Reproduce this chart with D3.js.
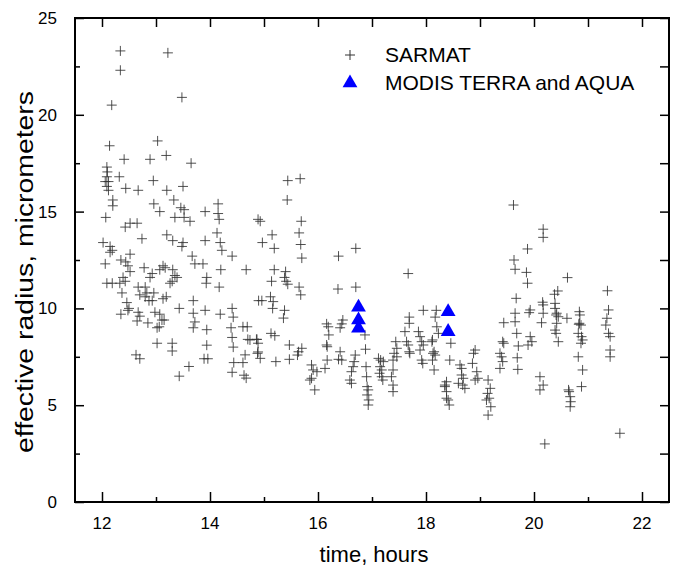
<!DOCTYPE html>
<html>
<head>
<meta charset="utf-8">
<script src="https://cdn.jsdelivr.net/npm/d3@7"></script>
<style>
  body { margin: 0; background: #fff; }
  text { font-family: "Liberation Sans", Arial, sans-serif; fill: #000; }
</style>
</head>
<body>
<svg id="chart" width="676" height="572"></svg>
<script>
// SARMAT retrievals: time (hours) and effective radius (micrometers)
const sarmatTime = [
    12.34, 12.34, 13.22, 12.18, 13.48, 12.14, 13.03, 13.19, 12.41, 12.89, 13.65,
    12.09, 12.1, 12.09, 12.06, 12.12, 12.09, 12.12, 12.32, 12.95, 12.44, 12.67, 13.2, 13.5,
    12.2, 12.2, 12.96, 13.07, 13.33, 13.46, 13.52, 13.91, 14.15, 14.15, 14.17,
    13.35, 13.52, 13.63, 12.07, 12.43, 12.52, 12.65, 12.74, 12.02, 12.15, 12.19,
    13.2, 13.31, 13.5, 13.48, 13.91, 14.13, 14.19, 14.22, 14.41, 13.67, 14.89,
    12.15, 12.06, 12.35, 12.44, 12.52, 12.48, 12.52, 12.78, 12.93, 12.89, 13.07, 13.13,
    13.17, 13.31, 13.35, 13.39, 13.3, 13.26, 13.72, 13.87, 14.2, 14.67, 13.94, 13.93, 14.17,
    12.09, 12.19, 12.33, 12.39, 12.43, 12.37, 12.46, 12.5, 12.67, 12.7, 12.8, 12.8,
    12.83, 12.87, 12.96, 12.93, 13.13, 13.19, 12.35, 12.48, 12.67, 12.7, 12.65, 12.85,
    12.98, 13.07, 13.02, 13.11, 13.15, 13.06, 13.02, 13.3, 13.3, 12.63, 12.7,
    13.43, 13.69, 13.69, 13.72, 13.69, 13.91, 13.94, 14.19, 13.94, 13.89, 13.96, 13.61, 13.43,
    14.41, 14.43, 14.39, 14.41, 14.43, 14.44, 14.41, 14.61, 14.69, 14.7, 14.65, 14.61,
    14.63, 14.67, 14.87, 14.89, 14.9,
    15.44, 15.67, 15.43, 14.93, 15.15, 14.97, 15.19, 15.69, 15.65, 15.68, 15.7,
    15.19, 15.4, 15.38, 15.41, 15.44, 15.14, 15.65, 15.68, 14.96, 15.12, 15.17, 15.16,
    15.38, 15.36, 16.38, 16.7, 16.37, 16.7, 17.67, 17.95, 18.19, 18.17, 17.69,
    16.16, 16.19, 16.46, 16.44, 16.41,
    14.74, 14.86, 14.89, 14.88, 14.93, 15.2, 15.13, 15.22, 15.47, 15.47, 15.64, 15.7, 15.62,
    15.88, 15.91, 15.98, 15.88, 15.85, 15.94, 16.13, 16.17, 16.2, 16.17, 16.16,
    16.87, 16.88, 16.41, 16.44, 16.38, 16.69, 16.67, 16.65, 16.62, 16.59, 16.62,
    16.89, 16.9, 16.91, 16.93, 16.91, 16.94, 16.93,
    17.12, 17.16, 17.21, 17.15, 17.18, 17.18, 17.2, 17.14, 17.39, 17.36, 17.39, 17.39,
    17.44, 17.46, 17.41, 17.46, 17.39, 17.61, 17.64, 17.67, 17.69, 17.7,
    17.86, 17.89, 17.92, 17.95, 17.89, 18.11, 18.15, 18.17, 17.92, 17.94, 18.12, 18.15,
    17.69, 18.38, 18.35, 18.38, 18.41,
    19.62, 20.17, 20.17, 19.88, 19.63, 19.65, 19.86, 19.88, 20.62, 19.67, 20.38, 20.44,
    21.36, 20.16, 20.17, 20.39, 20.39, 19.93, 19.91, 20.42, 20.45, 20.61, 20.84, 20.85,
    20.83, 21.38, 21.35, 21.33, 19.44, 19.65, 20.14,
    18.2, 18.23, 18.12, 18.13, 18.46, 18.44, 18.35, 18.38, 18.43,
    18.63, 18.66, 18.66, 18.69, 18.68, 18.72, 18.6, 18.91, 18.88, 18.86, 18.94, 18.96, 18.91,
    19.15, 19.19, 19.14, 19.17, 19.2, 19.15, 19.12, 19.37, 19.4, 19.42, 19.37, 19.44, 19.42,
    19.65, 19.68, 19.71, 19.69, 19.7, 19.93, 19.96, 19.89, 20.17, 20.11, 20.17, 20.11, 20.2,
    20.41, 20.42, 20.39, 20.41, 20.45, 20.64, 20.67, 20.68, 20.67, 20.65,
    20.84, 20.87, 20.82, 20.88, 20.9, 20.87, 20.82, 20.9, 20.88,
    21.38, 21.41, 21.41, 21.41, 21.59
];
const sarmatRadius = [
    23.3, 22.3, 23.2, 20.5, 20.9, 18.4, 18.65, 17.9, 17.7, 17.7, 17.5,
    17.3, 17.05, 16.8, 16.55, 16.55, 16.3, 16.1, 16.8, 16.6, 16.2, 16.1, 16.1, 16.3,
    15.6, 15.3, 15.4, 15.0, 15.6, 15.2, 15.1, 15.0, 15.4, 14.9, 14.6,
    14.7, 14.7, 14.5, 14.7, 14.2, 14.4, 14.4, 13.6, 13.4, 13.2, 13.0,
    13.8, 13.5, 13.4, 13.2, 13.5, 13.9, 13.4, 13.0, 12.7, 12.7, 14.6,
    12.9, 12.3, 12.5, 12.4, 12.8, 12.2, 11.9, 12.1, 11.8, 11.6, 12.0, 12.2,
    12.1, 12.0, 11.7, 11.6, 11.4, 11.3, 12.3, 12.3, 12.0, 12.0, 11.6, 11.3, 11.1,
    11.3, 11.3, 11.3, 11.6, 11.4, 10.8, 10.3, 10.0, 11.1, 10.7, 11.1, 10.6,
    10.8, 10.4, 10.8, 10.4, 10.5, 10.6, 9.7, 9.9, 9.8, 9.6, 9.35, 9.25,
    9.8, 9.7, 9.0, 9.4, 9.4, 9.05, 8.2, 8.2, 7.8, 7.6, 7.4,
    10.0, 10.4, 9.75, 9.3, 9.0, 9.9, 8.9, 9.7, 8.1, 7.4, 7.4, 7.0, 6.5,
    10.0, 9.55, 9.0, 8.5, 8.0, 7.2, 6.7, 9.05, 9.05, 8.4, 7.6, 7.2,
    6.55, 6.4, 8.4, 7.75, 10.4,
    16.6, 16.7, 15.6, 14.5, 13.8, 13.4, 13.1, 14.5, 13.9, 13.3, 12.6,
    12.0, 11.9, 11.6, 11.4, 11.25, 11.4, 11.1, 10.7, 10.4, 10.6, 10.35, 10.0,
    9.9, 9.5, 12.7, 13.1, 11.0, 11.1, 11.8, 9.9, 9.9, 9.55, 9.55,
    9.2, 9.05, 9.4, 9.2, 9.0,
    8.37, 8.4, 8.2, 7.68, 7.42, 8.59, 8.71, 7.25, 8.11, 7.37, 7.76, 7.94, 7.59,
    7.08, 6.82, 6.73, 6.39, 6.3, 5.79, 6.9, 7.33, 8.63, 8.02, 8.11,
    8.63, 7.89, 7.76, 7.33, 7.37, 7.59, 7.25, 6.99, 6.73, 6.3, 6.13,
    6.99, 6.47, 5.96, 5.79, 5.53, 5.27, 5.01,
    7.42, 7.33, 7.25, 6.99, 6.82, 6.47, 6.3, 6.65, 6.82, 6.47, 6.04, 5.7,
    8.28, 7.94, 7.68, 7.5, 7.33, 8.8, 8.28, 8.11, 7.76, 7.68,
    8.8, 8.54, 8.28, 8.11, 7.85, 8.28, 7.76, 7.59, 7.33, 7.16, 7.33, 6.82,
    9.23, 6.21, 6.04, 5.7, 5.27,
    15.34, 14.09, 13.67, 13.07, 12.5, 12.02, 11.86, 11.3, 11.59, 10.52, 10.73, 10.9,
    10.91, 10.32, 10.18, 10.26, 10.0, 9.92, 9.78, 9.75, 9.57, 9.49, 9.83, 9.66,
    9.18, 9.92, 9.49, 9.14, 9.26, 9.31, 9.26,
    9.05, 8.71, 8.37, 7.68, 8.2, 7.33, 5.96, 5.36, 5.01,
    7.08, 6.9, 6.56, 6.39, 6.04, 5.87, 6.13, 7.85, 7.68, 7.16, 6.73, 6.39, 6.3,
    6.3, 5.87, 5.61, 5.36, 4.92, 4.49, 5.27, 7.68, 7.5, 7.25, 6.9, 8.2, 8.28,
    9.75, 8.71, 8.06, 7.45, 6.85, 8.54, 8.28, 8.11, 9.75, 6.47, 6.04, 5.79, 3.0,
    9.66, 9.23, 8.88, 8.71, 8.28, 5.79, 5.44, 5.18, 4.92, 5.7,
    9.23, 9.14, 8.71, 8.54, 8.37, 8.2, 7.5, 6.82, 5.96,
    8.71, 8.54, 7.85, 7.5, 3.55
];

// MODIS TERRA and AQUA
const modisTime = [16.75, 16.75, 16.75, 18.41, 18.41];
const modisRadius = [10.06, 9.4, 8.97, 9.83, 8.8];

const xTicks = [12, 14, 16, 18, 20, 22];
const yTicks = [0, 5, 10, 15, 20, 25];
const legendLabels = ["SARMAT", "MODIS TERRA and AQUA"];

const svg = d3.select("#chart");
const plotLeft = 75, plotRight = 669, plotTop = 18, plotBottom = 502;

const x = d3.scaleLinear().domain([11.5, 22.5]).range([plotLeft, plotRight]);
const y = d3.scaleLinear().domain([0, 25]).range([plotBottom, plotTop]);

// ticks pointing inward on all four sides
svg.append("g")
    .attr("transform", `translate(0,${plotBottom})`)
    .call(d3.axisBottom(x).tickValues(d3.range(12, 23, 1)).tickSize(-1).tickFormat(""))
    .call(g => g.select(".domain").remove())
    .call(g => g.selectAll(".tick line")
        .attr("y2", d => d % 2 === 0 ? -10 : -5)
        .attr("stroke-width", 1.5));
svg.append("g")
    .attr("transform", `translate(0,${plotTop})`)
    .call(d3.axisTop(x).tickValues(d3.range(12, 23, 1)).tickSize(-9).tickFormat(""))
    .call(g => g.select(".domain").remove())
    .call(g => g.selectAll(".tick line").attr("stroke-width", 1.5));
svg.append("g")
    .attr("transform", `translate(${plotLeft},0)`)
    .call(d3.axisLeft(y).tickValues(d3.range(0, 25.1, 2.5)).tickSize(-1).tickFormat(""))
    .call(g => g.select(".domain").remove())
    .call(g => g.selectAll(".tick line")
        .attr("x2", d => d % 5 === 0 ? 9 : 5)
        .attr("stroke-width", 1.5));
svg.append("g")
    .attr("transform", `translate(${plotRight},0)`)
    .call(d3.axisRight(y).tickValues(d3.range(0, 25.1, 2.5)).tickSize(-9).tickFormat(""))
    .call(g => g.select(".domain").remove())
    .call(g => g.selectAll(".tick line").attr("stroke-width", 1.5));

// tick labels
svg.append("g").selectAll("text")
    .data(xTicks)
    .join("text")
    .attr("x", d => x(d))
    .attr("y", 529)
    .attr("text-anchor", "middle")
    .attr("font-size", 17)
    .text(d => d);
svg.append("g").selectAll("text")
    .data(yTicks)
    .join("text")
    .attr("x", 57)
    .attr("y", d => y(d) + 6)
    .attr("text-anchor", "end")
    .attr("font-size", 17)
    .text(d => d);

// frame
svg.append("rect")
    .attr("x", plotLeft).attr("y", plotTop)
    .attr("width", plotRight - plotLeft).attr("height", plotBottom - plotTop)
    .attr("fill", "none").attr("stroke", "#000").attr("stroke-width", 2);

// axis titles
svg.append("text")
    .attr("x", 374).attr("y", 562)
    .attr("text-anchor", "middle")
    .attr("font-size", 22)
    .text("time, hours");
svg.append("text")
    .attr("transform", "translate(33,272) rotate(-90)")
    .attr("text-anchor", "middle")
    .attr("font-size", 23)
    .attr("textLength", 362)
    .attr("lengthAdjust", "spacingAndGlyphs")
    .text("effective radius, micrometers");

const crossPath = s => `M${-s},0H${s}M0,${-s}V${s}`;

// SARMAT points
svg.append("g").selectAll("path")
    .data(d3.range(sarmatTime.length))
    .join("path")
    .attr("transform", i => `translate(${x(sarmatTime[i])},${y(sarmatRadius[i])})`)
    .attr("d", crossPath(5))
    .attr("stroke", "#333")
    .attr("stroke-opacity", 0.85)
    .attr("stroke-width", 1)
    .attr("fill", "none");

// MODIS points
const tri = d3.symbol().type(d3.symbolTriangle).size(95);
svg.append("g").selectAll("path")
    .data(d3.range(modisTime.length))
    .join("path")
    .attr("transform", i => `translate(${x(modisTime[i])},${y(modisRadius[i])})`)
    .attr("d", tri())
    .attr("fill", "#0000ff");

// legend
const legend = svg.append("g");
legend.append("path")
    .attr("transform", "translate(350,55)")
    .attr("d", crossPath(5))
    .attr("stroke", "#333")
    .attr("fill", "none");
legend.append("path")
    .attr("transform", "translate(350,83)")
    .attr("d", tri())
    .attr("fill", "#0000ff");
legend.selectAll("text")
    .data(legendLabels)
    .join("text")
    .attr("x", 385)
    .attr("y", (d, i) => 62 + i * 28)
    .attr("font-size", 21)
    .text(d => d);
</script>
</body>
</html>
